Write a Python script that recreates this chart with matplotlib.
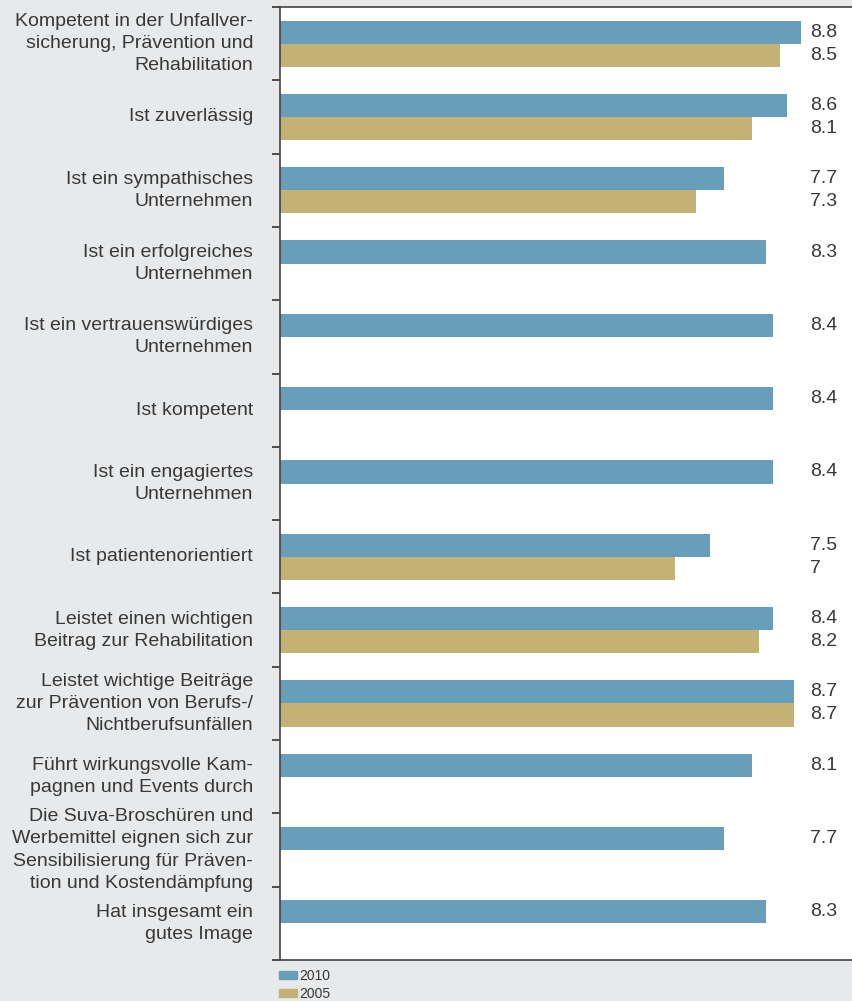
import numpy as np
import matplotlib
matplotlib.use("Agg")
import matplotlib.pyplot as plt
from matplotlib.patches import Patch

plt.rcParams['font.family'] = ['Liberation Sans', 'DejaVu Sans']

# statements, top to bottom
labels = [
    "Kompetent in der Unfallver-\nsicherung, Prävention und\nRehabilitation",
    "Ist zuverlässig",
    "Ist ein sympathisches\nUnternehmen",
    "Ist ein erfolgreiches\nUnternehmen",
    "Ist ein vertrauenswürdiges\nUnternehmen",
    "Ist kompetent",
    "Ist ein engagiertes\nUnternehmen",
    "Ist patientenorientiert",
    "Leistet einen wichtigen\nBeitrag zur Rehabilitation",
    "Leistet wichtige Beiträge\nzur Prävention von Berufs-/\nNichtberufsunfällen",
    "Führt wirkungsvolle Kam-\npagnen und Events durch",
    "Die Suva-Broschüren und\nWerbemittel eignen sich zur\nSensibilisierung für Präven-\ntion und Kostendämpfung",
    "Hat insgesamt ein\ngutes Image",
]
vals_2010 = [8.8, 8.6, 7.7, 8.3, 8.4, 8.4, 8.4, 7.5, 8.4, 8.7, 8.1, 7.7, 8.3]
# None = no 2005 survey value
vals_2005 = [8.5, 8.1, 7.3, None, None, None, None, 7.0, 8.2, 8.7, None, None, None]

c2010 = "#679fba"
c2005 = "#c4b274"
txt = "#383838"
bg = "#e8e9eb"

fig = plt.figure(figsize=(8.52, 10.01), dpi=100, facecolor=bg)
ax = fig.add_axes([280 / 852, 1 - 960 / 1001, 1 - 280 / 852, 953 / 1001])
ax.set_facecolor("white")

n = len(labels)
centers = np.arange(n) + 0.5
h = 0.315

ax.barh(centers - h / 2, vals_2010, height=h, color=c2010)
y05 = [c + h / 2 for c, v in zip(centers, vals_2005) if v is not None]
v05 = [v for v in vals_2005 if v is not None]
ax.barh(y05, v05, height=h, color=c2005)

ax.set_xlim(1.37, 9.53)
ax.set_ylim(n, 0)

# value labels in a fixed column on the right
tr = ax.get_yaxis_transform()
for c, v in zip(centers, vals_2010):
    ax.text(0.9266, c - h / 2, f"{v:g}", transform=tr, ha="left", va="center",
            fontsize=14, color=txt)
for c, v in zip(centers, vals_2005):
    if v is not None:
        ax.text(0.9266, c + h / 2, f"{v:g}", transform=tr, ha="left", va="center",
                fontsize=14, color=txt)

# category labels
for c, lab in zip(centers, labels):
    ax.text(-27 / 572, c, lab, transform=tr, ha="right", va="center",
            multialignment="right", fontsize=14, color=txt, linespacing=1.4)

ax.set_xticks([])
ax.set_yticks(np.arange(n + 1))
ax.set_yticklabels([])
ax.tick_params(axis="y", direction="out", length=5.8, width=1.2, color="#333333")
ax.spines["right"].set_visible(False)
for s in ["left", "top", "bottom"]:
    ax.spines[s].set_color("#444444")
    ax.spines[s].set_linewidth(1.2)

handles = [Patch(color=c2010, label="2010"), Patch(color=c2005, label="2005")]
fig.legend(handles=handles, loc="upper left",
           bbox_to_anchor=(279 / 852, 1 - 969 / 1001), frameon=False,
           fontsize=10, handlelength=1.3, handleheight=0.55,
           handletextpad=0.15, labelspacing=0.3, borderpad=0, borderaxespad=0,
           labelcolor=txt)

fig.savefig("out.png", dpi=100, facecolor=bg)
